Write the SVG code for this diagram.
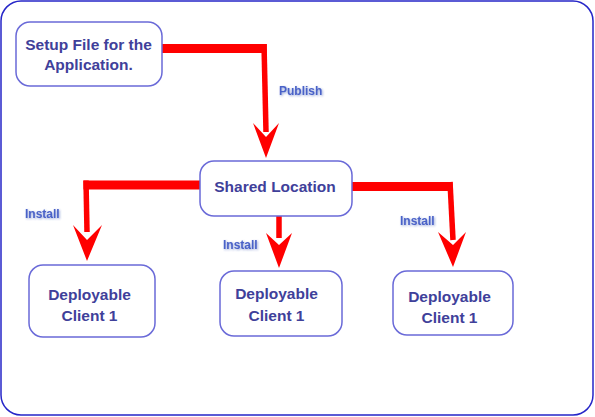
<svg xmlns="http://www.w3.org/2000/svg" width="595" height="417" viewBox="0 0 595 417">
<style>
.node rect{fill:#fff;stroke:#6a6ad8;stroke-width:1.5}
.nt{font-family:"Liberation Sans",Arial,sans-serif;font-weight:bold;font-size:15.5px;fill:#40409a;text-anchor:middle}
.lbl{font-family:"Liberation Sans",Arial,sans-serif;font-weight:bold;font-size:12px;fill:#4a62c8;filter:url(#sh)}
.wire{fill:none;stroke:#ff0000;stroke-linejoin:miter}
.h{stroke-width:9}
.v{stroke-width:5.5}
.head{fill:#ff0000}
</style>
<defs>
<filter id="sh" x="-20%" y="-50%" width="140%" height="200%">
<feGaussianBlur in="SourceAlpha" stdDeviation="1"/>
<feOffset dx="1" dy="1" result="b"/>
<feFlood flood-color="#3050b0" flood-opacity="0.5"/>
<feComposite in2="b" operator="in"/>
<feMerge><feMergeNode/><feMergeNode in="SourceGraphic"/></feMerge>
</filter>
</defs>
<rect x="1" y="1" width="592" height="414" rx="20" fill="#fff" stroke="#2626c8" stroke-width="1.5"/>
<g id="connectors">
<path class="wire h" d="M162 48.5 H266.7"/>
<path class="wire v" d="M264 44 L266 132"/>
<polygon class="head" points="253,123 266,137 279,123 266,158"/>
<path class="wire h" d="M200 185 H83.5"/>
<path class="wire v" d="M86 180.5 L87 232"/>
<polygon class="head" points="73,225 87,240 102,225 87,261"/>
<path class="wire v" d="M279 216 V238"/>
<polygon class="head" points="266,233 279,245 292,233 279,268"/>
<path class="wire h" d="M352 186.5 H452.5"/>
<path class="wire v" d="M450 182 L453 240"/>
<polygon class="head" points="438,232 453,245 466,232 453,267"/>
<text class="lbl" x="279" y="95">Publish</text>
<text class="lbl" x="25" y="218">Install</text>
<text class="lbl" x="223" y="249">Install</text>
<text class="lbl" x="400" y="225">Install</text>
</g>
<g id="setup" class="node">
<rect x="16" y="22" width="146" height="64" rx="14"/>
<text class="nt" x="88.5" y="49.5">Setup File for the</text>
<text class="nt" x="88.5" y="70">Application.</text>
</g>
<g id="shared" class="node">
<rect x="200" y="161" width="152" height="55" rx="14"/>
<text class="nt" x="275" y="192">Shared Location</text>
</g>
<g id="client-left" class="node">
<rect x="29" y="265" width="126" height="72" rx="14"/>
<text class="nt" x="89.5" y="299.5">Deployable</text>
<text class="nt" x="89.5" y="321">Client 1</text>
</g>
<g id="client-mid" class="node">
<rect x="220" y="271" width="122" height="65" rx="14"/>
<text class="nt" x="276.5" y="299">Deployable</text>
<text class="nt" x="276.5" y="321">Client 1</text>
</g>
<g id="client-right" class="node">
<rect x="393" y="271" width="120" height="64" rx="14"/>
<text class="nt" x="449.5" y="301.5">Deployable</text>
<text class="nt" x="449.5" y="323">Client 1</text>
</g>
</svg>
